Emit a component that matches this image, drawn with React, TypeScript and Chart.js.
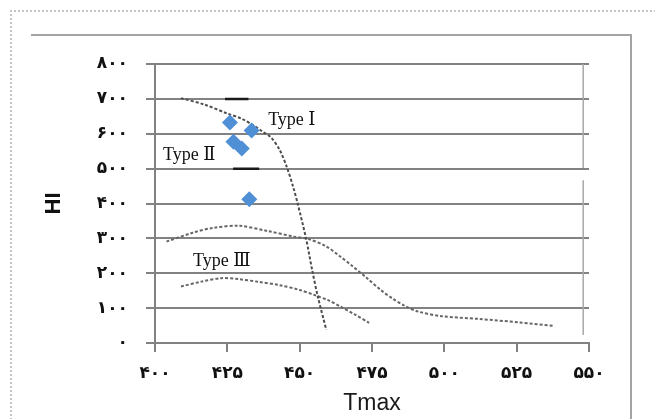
import { useEffect, useRef } from 'react';
import { Chart, registerables } from 'chart.js';

Chart.register(...registerables);

// Measured samples: Tmax (°C) against hydrogen index HI
const sampleTmax = [425.9, 433.4, 427.1, 430.0, 432.6];
const sampleHI = [632, 609, 577, 558, 412];

// Kerogen type boundary curves
const typeITmax = [409, 417, 425, 430, 434, 437, 440, 443, 445.5, 447.7, 449.3, 452.2, 454.3, 456.3, 459.2];
const typeIHI = [702, 684, 658, 643, 624, 607, 590, 555, 506, 449, 400, 300, 210, 132, 38];

const typeIITmax = [404, 413, 420, 429, 439, 448, 453, 459, 464, 468, 473, 478, 482, 486, 491, 499, 512, 526, 538];
const typeIIHI = [291, 316, 330, 336, 321, 305, 298, 278, 248, 222, 188, 152, 128, 108, 90, 77, 69, 59, 49];

const typeIIITmax = [409, 416, 423, 429, 436, 443, 450, 455, 460, 464, 469, 474];
const typeIIIHI = [162, 176, 186, 183, 175, 166, 152, 138, 122, 105, 82, 58];

// Short reference bars
const refBarHI = [700, 500];
const refBarStart = [424.2, 427];
const refBarEnd = [432.3, 436];

// Region labels
const typeLabels = ['Type Ⅰ', 'Type Ⅱ', 'Type Ⅲ'];
const typeLabelTmax = [439.1, 402.8, 413.1];
const typeLabelHI = [639, 539, 233];

// Right-hand frame line of the plot
const frameTmax = 548;
const frameHI = [800, 502, 467, 23];

const persianDigits = ['۰', '۱', '۲', '۳', '۴', '۵', '۶', '۷', '۸', '۹'];
const toPersian = (v: number | string) =>
  String(v).replace(/[0-9]/g, (d) => persianDigits[Number(d)]);

const zip = (xs: number[], ys: number[]) => xs.map((x, i) => ({ x, y: ys[i] }));

const typeLabelPlugin = {
  id: 'typeLabels',
  afterDatasetsDraw(chart: any) {
    const { ctx, scales } = chart;
    ctx.save();
    ctx.font = '18px "Liberation Serif", "DejaVu Serif", serif';
    ctx.fillStyle = '#111';
    ctx.textAlign = 'left';
    ctx.textBaseline = 'middle';
    typeLabels.forEach((t, i) => {
      ctx.fillText(t, scales.x.getPixelForValue(typeLabelTmax[i]), scales.y.getPixelForValue(typeLabelHI[i]));
    });
    ctx.restore();
  },
};

export default function App() {
  const canvasRef = useRef<HTMLCanvasElement | null>(null);

  useEffect(() => {
    const canvas = canvasRef.current;
    if (!canvas) return;

    const curveStyle = {
      type: 'line' as const,
      borderWidth: 2,
      borderDash: [3, 2],
      pointRadius: 0,
      tension: 0.3,
      fill: false,
    };

    const refBars: any[] = [];
    refBarHI.forEach((y, i) => {
      refBars.push({ x: refBarStart[i], y }, { x: refBarEnd[i], y });
      if (i < refBarHI.length - 1) refBars.push({ x: refBarEnd[i], y: null });
    });

    const frameLine = [
      { x: frameTmax, y: frameHI[0] },
      { x: frameTmax, y: frameHI[1] },
      { x: frameTmax, y: null },
      { x: frameTmax, y: frameHI[2] },
      { x: frameTmax, y: frameHI[3] },
    ];

    const tickFont = { family: '"DejaVu Sans", sans-serif', size: 17, weight: 'bold' as const };

    const chart = new Chart(canvas, {
      type: 'scatter',
      data: {
        datasets: [
          {
            type: 'scatter',
            data: zip(sampleTmax, sampleHI),
            pointStyle: 'rectRot',
            pointRadius: 8,
            backgroundColor: '#4f8fd6',
            borderColor: '#4f8fd6',
            borderWidth: 0,
          },
          { ...curveStyle, data: zip(typeITmax, typeIHI), borderColor: '#4d4d4d' },
          { ...curveStyle, data: zip(typeIITmax, typeIIHI), borderColor: '#666' },
          { ...curveStyle, data: zip(typeIIITmax, typeIIIHI), borderColor: '#666' },
          {
            type: 'line',
            data: refBars,
            borderColor: '#1a1a1a',
            borderWidth: 2.5,
            pointRadius: 0,
            spanGaps: false,
          },
          {
            type: 'line',
            data: frameLine,
            borderColor: '#a8a8a8',
            borderWidth: 1.5,
            pointRadius: 0,
            spanGaps: false,
          },
        ] as any,
      },
      options: {
        animation: false,
        responsive: false,
        events: [],
        layout: { padding: { top: 64, right: 66, left: 0, bottom: 0 } },
        plugins: { legend: { display: false }, tooltip: { enabled: false } },
        scales: {
          x: {
            type: 'linear',
            min: 400,
            max: 550,
            afterFit: (s: any) => {
              s.height = 76;
            },
            ticks: {
              stepSize: 25,
              padding: 11,
              color: '#111',
              font: tickFont,
              callback: (v: any) => toPersian(v),
            },
            grid: { drawOnChartArea: false, color: '#828282', lineWidth: 2, tickLength: 9 },
            border: { color: '#828282', width: 2 },
            title: {
              display: true,
              text: 'Tmax',
              color: '#1a1a1a',
              font: { family: '"Liberation Sans", Arial, sans-serif', size: 23 },
              padding: { top: 0, bottom: 2 },
            },
          },
          y: {
            min: 0,
            max: 800,
            afterFit: (s: any) => {
              s.width = 155;
            },
            ticks: {
              stepSize: 100,
              padding: 18,
              color: '#111',
              font: tickFont,
              callback: (v: any) => toPersian(v),
            },
            grid: { color: '#828282', lineWidth: 2, tickLength: 9 },
            border: { color: '#828282', width: 2 },
            title: {
              display: true,
              text: 'HI',
              color: '#111',
              font: { family: '"Liberation Sans", Arial, sans-serif', size: 22, weight: 'bold' },
              padding: { top: 41, bottom: 0 },
            },
          },
        },
      },
      plugins: [typeLabelPlugin],
    });

    return () => chart.destroy();
  }, []);

  return (
    <div style={{ position: 'absolute', left: 0, top: 0, width: 655, height: 419, background: '#fff', overflow: 'hidden' }}>
      <div
        style={{
          position: 'absolute',
          left: 10,
          top: 10,
          width: 700,
          height: 500,
          borderTop: '2px dotted #c4c4c4',
          borderLeft: '2px dotted #c4c4c4',
        }}
      />
      <div
        style={{
          position: 'absolute',
          left: 31,
          top: 34,
          width: 599,
          height: 500,
          borderTop: '2px solid #a4a4a4',
          borderRight: '2px solid #a4a4a4',
        }}
      />
      <canvas ref={canvasRef} width={655} height={419} style={{ position: 'absolute', left: 0, top: 0 }} />
    </div>
  );
}
